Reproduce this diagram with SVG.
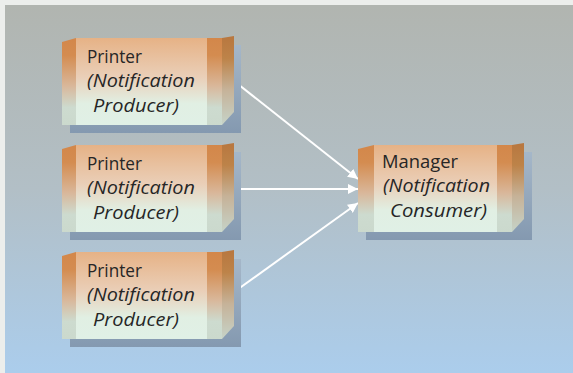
<svg xmlns="http://www.w3.org/2000/svg" width="573" height="373" viewBox="0 0 573 373">
<defs>
<linearGradient id="bg" x1="0" y1="0" x2="0" y2="1">
<stop offset="0" stop-color="#b1b5b0"/>
<stop offset="0.5" stop-color="#b2bfc6"/>
<stop offset="1" stop-color="#abcdec"/>
</linearGradient>
<linearGradient id="front" x1="0" y1="0" x2="0" y2="1">
<stop offset="0" stop-color="#e6b286"/>
<stop offset="0.45" stop-color="#eacfb8"/>
<stop offset="0.75" stop-color="#e1efe3"/>
<stop offset="1" stop-color="#e0f0e6"/>
</linearGradient>
<linearGradient id="strip" x1="0" y1="0" x2="0" y2="1">
<stop offset="0" stop-color="#d3874a"/>
<stop offset="0.2" stop-color="#d48c50"/>
<stop offset="0.55" stop-color="#d9b79a"/>
<stop offset="0.8" stop-color="#cddbcf"/>
<stop offset="1" stop-color="#cbd9cd"/>
</linearGradient>
<linearGradient id="side" x1="0" y1="0" x2="0" y2="1">
<stop offset="0" stop-color="#b8773f"/>
<stop offset="0.25" stop-color="#bd8349"/>
<stop offset="0.6" stop-color="#c6b298"/>
<stop offset="1" stop-color="#c6d3c8"/>
</linearGradient>
<linearGradient id="shadow" x1="0" y1="0" x2="0" y2="1">
<stop offset="0" stop-color="#a5b7c9"/>
<stop offset="1" stop-color="#8499b0"/>
</linearGradient>
<marker id="arrow" viewBox="0 0 10 10" refX="10" refY="5" markerWidth="5" markerHeight="5" orient="auto" markerUnits="strokeWidth">
<path d="M0,0 L10,5 L0,10 z" fill="#ffffff"/>
</marker>
<g id="printerBox">
<rect x="8" y="7" width="171" height="88" fill="url(#shadow)"/>
<polygon points="0,4 14,0 14,87 0,87" fill="url(#strip)"/>
<rect x="14" y="0" width="131" height="87" fill="url(#front)"/>
<rect x="145" y="0" width="15" height="87" fill="url(#strip)"/>
<polygon points="160,0 172,-2 172,74 160,87" fill="url(#side)"/>
</g>
</defs>
<style>
.t { font-family: "Open Sans", "Noto Sans", "Liberation Sans", sans-serif; font-size: 19px; fill: #262626; }
.i { font-style: italic; }
.conn { stroke: #ffffff; stroke-width: 2; fill: none; }
</style>
<rect x="0" y="0" width="573" height="373" fill="#eceeec"/>
<rect x="5" y="5" width="568" height="368" fill="url(#bg)"/>
<g id="connectors">
<line class="conn" x1="234" y1="81" x2="358" y2="179" marker-end="url(#arrow)"/>
<line class="conn" x1="234" y1="189" x2="358" y2="189" marker-end="url(#arrow)"/>
<line class="conn" x1="234" y1="292" x2="358" y2="203" marker-end="url(#arrow)"/>
</g>
<g id="printer1">
<use href="#printerBox" x="62" y="38"/>
<text class="t" x="87" y="63" textLength="55" lengthAdjust="spacingAndGlyphs">Printer</text>
<text class="t i" x="87" y="87" textLength="108" lengthAdjust="spacingAndGlyphs">(Notification</text>
<text class="t i" x="93" y="112" textLength="86" lengthAdjust="spacingAndGlyphs">Producer)</text>
</g>
<g id="printer2">
<use href="#printerBox" x="62" y="145"/>
<text class="t" x="87" y="170" textLength="55" lengthAdjust="spacingAndGlyphs">Printer</text>
<text class="t i" x="87" y="194" textLength="108" lengthAdjust="spacingAndGlyphs">(Notification</text>
<text class="t i" x="93" y="219" textLength="86" lengthAdjust="spacingAndGlyphs">Producer)</text>
</g>
<g id="printer3">
<use href="#printerBox" x="62" y="252"/>
<text class="t" x="87" y="277" textLength="55" lengthAdjust="spacingAndGlyphs">Printer</text>
<text class="t i" x="87" y="301" textLength="108" lengthAdjust="spacingAndGlyphs">(Notification</text>
<text class="t i" x="93" y="326" textLength="86" lengthAdjust="spacingAndGlyphs">Producer)</text>
</g>
<g id="manager">
<g transform="translate(358,145)">
<rect x="8" y="7" width="166" height="88" fill="url(#shadow)"/>
<polygon points="0,4 16,0 16,87 0,87" fill="url(#strip)"/>
<rect x="16" y="0" width="123" height="87" fill="url(#front)"/>
<rect x="139" y="0" width="15" height="87" fill="url(#strip)"/>
<polygon points="154,0 166,-2 166,74 154,87" fill="url(#side)"/>
</g>
<text class="t" x="382" y="168" textLength="76" lengthAdjust="spacingAndGlyphs">Manager</text>
<text class="t i" x="383" y="192" textLength="107" lengthAdjust="spacingAndGlyphs">(Notification</text>
<text class="t i" x="390" y="217" textLength="97" lengthAdjust="spacingAndGlyphs">Consumer)</text>
</g>
</svg>
